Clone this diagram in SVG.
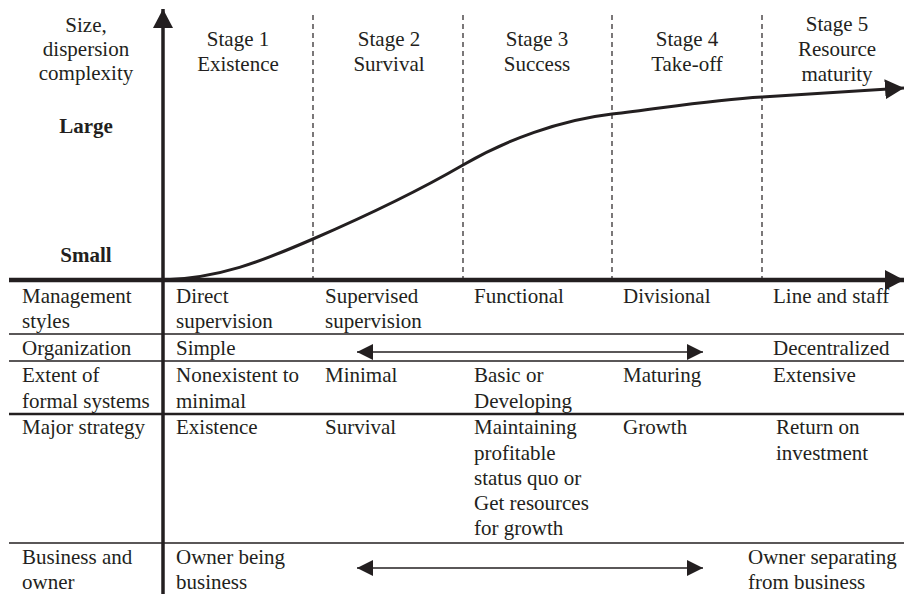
<svg xmlns="http://www.w3.org/2000/svg" width="904" height="594" viewBox="0 0 904 594">
<style>
text{font-family:"Liberation Serif","Times New Roman",serif;font-size:21px;fill:#231f20}
.c{text-anchor:middle}
.b{font-weight:bold}
.dash{stroke:#231f20;stroke-width:1.2;stroke-dasharray:5,4;fill:none}
.sep{stroke:#231f20;stroke-width:1.5;fill:none}
.arr{stroke:#231f20;stroke-width:1.5;fill:none}
</style>
<defs>
<marker id="ah" markerUnits="userSpaceOnUse" markerWidth="20" markerHeight="20" refX="16" refY="8" orient="auto-start-reverse" viewBox="0 0 20 20">
<path d="M0,0 L16,8 L0,16 Z" fill="#231f20"/>
</marker>
<marker id="big" markerUnits="userSpaceOnUse" markerWidth="24" markerHeight="24" refX="19" refY="10" orient="auto" viewBox="0 0 24 24">
<path d="M0,0 L19,10 L0,20 Z" fill="#231f20"/>
</marker>
</defs>
<rect width="904" height="594" fill="#fff"/>
<g id="grid">
<line class="dash" x1="313" y1="15" x2="313" y2="280"/>
<line class="dash" x1="463" y1="15" x2="463" y2="280"/>
<line class="dash" x1="612" y1="15" x2="612" y2="280"/>
<line class="dash" x1="762" y1="15" x2="762" y2="280"/>
<line class="sep" x1="9" y1="334" x2="904" y2="334"/>
<line class="sep" x1="9" y1="361" x2="904" y2="361"/>
<line x1="9" y1="414" x2="904" y2="414" stroke="#231f20" stroke-width="2.5"/>
<line class="sep" x1="9" y1="543" x2="904" y2="543"/>
</g>
<g id="connectors">
<line x1="163" y1="594" x2="163" y2="9" stroke="#231f20" stroke-width="3.5" marker-end="url(#big)"/>
<line x1="9" y1="280" x2="904" y2="280" stroke="#231f20" stroke-width="4.5" marker-end="url(#big)"/>
<path d="M163,280 C220,278 260,262 313,239 S420,190 463,165 S560,120 612,114 S710,100 762,97 S860,91 904,88" stroke="#231f20" stroke-width="3" fill="none" marker-end="url(#big)"/>
<line class="arr" x1="357" y1="352" x2="703" y2="352" marker-start="url(#ah)" marker-end="url(#ah)"/>
<line class="arr" x1="357" y1="568" x2="703" y2="568" marker-start="url(#ah)" marker-end="url(#ah)"/>
</g>
<g id="yaxis-label">
<text class="c" x="86" y="32">Size,</text>
<text class="c" x="86" y="56">dispersion</text>
<text class="c" x="86" y="80">complexity</text>
<text class="c b" x="86" y="133">Large</text>
<text class="c b" x="86" y="262">Small</text>
</g>
<g id="stage1"><text class="c" x="238" y="46">Stage 1</text><text class="c" x="238" y="71">Existence</text></g>
<g id="stage2"><text class="c" x="389" y="46">Stage 2</text><text class="c" x="389" y="71">Survival</text></g>
<g id="stage3"><text class="c" x="537" y="46">Stage 3</text><text class="c" x="537" y="71">Success</text></g>
<g id="stage4"><text class="c" x="687" y="46">Stage 4</text><text class="c" x="687" y="71">Take-off</text></g>
<g id="stage5"><text class="c" x="837" y="31">Stage 5</text><text class="c" x="837" y="56">Resource</text><text class="c" x="837" y="81">maturity</text></g>
<g id="row-management">
<text x="22" y="303">Management</text><text x="22" y="328">styles</text>
<text x="176" y="303">Direct</text><text x="176" y="328">supervision</text>
<text x="325" y="303">Supervised</text><text x="325" y="328">supervision</text>
<text x="474" y="303">Functional</text>
<text x="623" y="303">Divisional</text>
<text x="773" y="303">Line and staff</text>
</g>
<g id="row-organization">
<text x="22" y="355">Organization</text>
<text x="176" y="355">Simple</text>
<text x="773" y="355">Decentralized</text>
</g>
<g id="row-systems">
<text x="22" y="382">Extent of</text><text x="22" y="408">formal systems</text>
<text x="176" y="382">Nonexistent to</text><text x="176" y="408">minimal</text>
<text x="325" y="382">Minimal</text>
<text x="474" y="382">Basic or</text><text x="474" y="408">Developing</text>
<text x="623" y="382">Maturing</text>
<text x="773" y="382">Extensive</text>
</g>
<g id="row-strategy">
<text x="22" y="434">Major strategy</text>
<text x="176" y="434">Existence</text>
<text x="325" y="434">Survival</text>
<text x="474" y="434">Maintaining</text><text x="474" y="460">profitable</text><text x="474" y="485">status quo or</text><text x="474" y="510">Get resources</text><text x="474" y="535">for growth</text>
<text x="623" y="434">Growth</text>
<text x="776" y="434">Return on</text><text x="776" y="460">investment</text>
</g>
<g id="row-owner">
<text x="22" y="564">Business and</text><text x="22" y="589">owner</text>
<text x="176" y="564">Owner being</text><text x="176" y="589">business</text>
<text x="748" y="564">Owner separating</text><text x="748" y="589">from business</text>
</g>
</svg>
